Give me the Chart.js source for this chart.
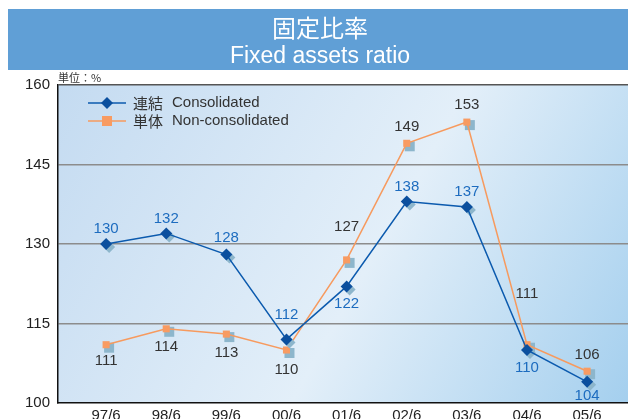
<!DOCTYPE html>
<html lang="ja">
<head>
    <meta charset="UTF-8">
    <title>固定比率</title>
    <script src="https://cdn.jsdelivr.net/npm/chart.js"></script>
    <style>
        body { margin: 0; background: #fff; }
        #wrap { width: 628px; height: 419px; }
    </style>
</head>
<body>
<div id="wrap"><canvas id="ratioChart" width="628" height="419"></canvas></div>

<script>
    // 年度（決算期）
    const periods = ['97/6', '98/6', '99/6', '00/6', '01/6', '02/6', '03/6', '04/6', '05/6'];
    // 連結
    const consolidated = [130, 132, 128, 112, 122, 138, 137, 110, 104];
    // 単体
    const nonConsolidated = [111, 114, 113, 110, 127, 149, 153, 111, 106];
    // 縦軸の目盛
    const yTicks = [100, 115, 130, 145, 160];

    const FONT = '"Liberation Sans", Arial, "Noto Sans CJK JP", sans-serif';

    // 数値ラベルのずれ（点からの位置）
    const labelDy = {
        0: [-15, -15, -17, -25, 17, -15, -15, 18, 14],
        1: [16, 18, 19, 20, -33, -16, -17, -51, -16]
    };

    // 背景・タイトル・凡例・影・数値ラベルを描くプラグイン
    const decor = {
        id: 'decor',
        beforeDraw(chart) {
            const {ctx, chartArea: a} = chart;
            ctx.save();
            // タイトル帯
            ctx.fillStyle = '#609fd6';
            ctx.fillRect(8, 9, 620, 61);
            ctx.fillStyle = '#fff';
            ctx.textAlign = 'center';
            ctx.textBaseline = 'middle';
            ctx.font = '24px "Noto Sans CJK JP", sans-serif';
            ctx.fillText('固定比率', 320, 28);
            ctx.font = '23px ' + FONT;
            ctx.fillText('Fixed assets ratio', 320, 57);
            // 単位
            ctx.fillStyle = '#333';
            ctx.textAlign = 'left';
            ctx.font = '11px "Noto Sans CJK JP", sans-serif';
            ctx.fillText('単位：%', 58, 78);
            // グラフ背景
            const g = ctx.createLinearGradient(a.left, a.top, a.right, a.bottom);
            g.addColorStop(0, '#c4dbf1');
            g.addColorStop(0.55, '#e3eff9');
            g.addColorStop(1, '#a4cfee');
            ctx.fillStyle = g;
            ctx.fillRect(a.left, a.top, a.right - a.left, a.bottom - a.top);
            ctx.restore();
        },
        beforeDatasetDraw(chart, args) {
            // 影のマーカー
            const {ctx} = chart;
            const meta = args.meta;
            ctx.save();
            ctx.fillStyle = '#8db6cc';
            meta.data.forEach(p => {
                const x = p.x + 3, y = p.y + 3;
                ctx.beginPath();
                if (args.index === 0) {
                    ctx.moveTo(x, y - 6);
                    ctx.lineTo(x + 6, y);
                    ctx.lineTo(x, y + 6);
                    ctx.lineTo(x - 6, y);
                } else {
                    ctx.rect(x - 5, y - 5, 10, 10);
                }
                ctx.closePath();
                ctx.fill();
            });
            ctx.restore();
        },
        afterDatasetsDraw(chart) {
            const {ctx} = chart;
            ctx.save();
            ctx.font = '15px ' + FONT;
            ctx.textAlign = 'center';
            ctx.textBaseline = 'middle';
            chart.data.datasets.forEach((ds, i) => {
                ctx.fillStyle = i === 0 ? '#1d6cbf' : '#333';
                chart.getDatasetMeta(i).data.forEach((p, j) => {
                    ctx.fillText(String(ds.data[j].y), p.x, p.y + labelDy[i][j]);
                });
            });
            // 凡例
            const names = [['連結', 'Consolidated'], ['単体', 'Non-consolidated']];
            chart.data.datasets.forEach((ds, i) => {
                const y = 103 + i * 18;
                ctx.strokeStyle = ds.borderColor;
                ctx.lineWidth = 1.5;
                ctx.beginPath();
                ctx.moveTo(88, y);
                ctx.lineTo(126, y);
                ctx.stroke();
                ctx.fillStyle = ds.pointBackgroundColor;
                ctx.beginPath();
                if (i === 0) {
                    ctx.moveTo(107, y - 6);
                    ctx.lineTo(113, y);
                    ctx.lineTo(107, y + 6);
                    ctx.lineTo(101, y);
                } else {
                    ctx.rect(102, y - 5, 10, 10);
                }
                ctx.closePath();
                ctx.fill();
                ctx.fillStyle = '#333';
                ctx.textAlign = 'left';
                ctx.font = '15px "Noto Sans CJK JP", sans-serif';
                ctx.fillText(names[i][0], 133, y);
                ctx.font = '15px ' + FONT;
                ctx.fillText(names[i][1], 172, y);
            });
            ctx.restore();
        }
    };

    new Chart(document.getElementById('ratioChart'), {
        type: 'line',
        data: {
            datasets: [{
                label: '連結 Consolidated',
                data: consolidated.map((v, i) => ({x: i, y: v})),
                borderColor: '#0b5aae',
                borderWidth: 1.5,
                pointStyle: 'rectRot',
                pointRadius: 6,
                pointHoverRadius: 6,
                pointBackgroundColor: '#0b4f9e',
                pointBorderWidth: 0,
                tension: 0
            }, {
                label: '単体 Non-consolidated',
                data: nonConsolidated.map((v, i) => ({x: i, y: v})),
                borderColor: '#f79a5e',
                borderWidth: 1.5,
                pointStyle: 'rect',
                pointRadius: 5,
                pointHoverRadius: 5,
                pointBackgroundColor: '#f89b62',
                pointBorderWidth: 0,
                tension: 0
            }]
        },
        options: {
            responsive: false,
            animation: false,
            layout: { autoPadding: false, padding: { top: 85, right: 0, left: 0, bottom: 0 } },
            plugins: {
                legend: { display: false },
                tooltip: { enabled: false }
            },
            scales: {
                x: {
                    type: 'linear',
                    min: -0.8,
                    max: 8.68,
                    afterBuildTicks: s => { s.ticks = periods.map((_, i) => ({value: i})); },
                    afterFit: s => { s.height = 16; s.paddingLeft = 0; s.paddingRight = 0; },
                    ticks: {
                        callback: v => periods[v],
                        color: '#222',
                        font: { size: 15, family: FONT },
                        padding: 4,
                        maxRotation: 0,
                        autoSkip: false
                    },
                    grid: { display: false, drawTicks: false },
                    border: { color: '#111', width: 1.5 }
                },
                y: {
                    min: 100,
                    max: 160,
                    afterBuildTicks: s => { s.ticks = yTicks.map(v => ({value: v})); },
                    afterFit: s => { s.width = 58; s.paddingTop = 0; s.paddingBottom = 0; },
                    ticks: {
                        color: '#222',
                        font: { size: 15, family: FONT },
                        padding: 8
                    },
                    grid: {
                        color: c => c.tick.value === 100 ? 'rgba(0,0,0,0)' : (c.tick.value === 160 ? '#555' : '#8c8c8c'),
                        lineWidth: 1.5,
                        drawTicks: false
                    },
                    border: { color: '#111', width: 1.5 }
                }
            }
        },
        plugins: [decor]
    });
</script>
</body>
</html>
